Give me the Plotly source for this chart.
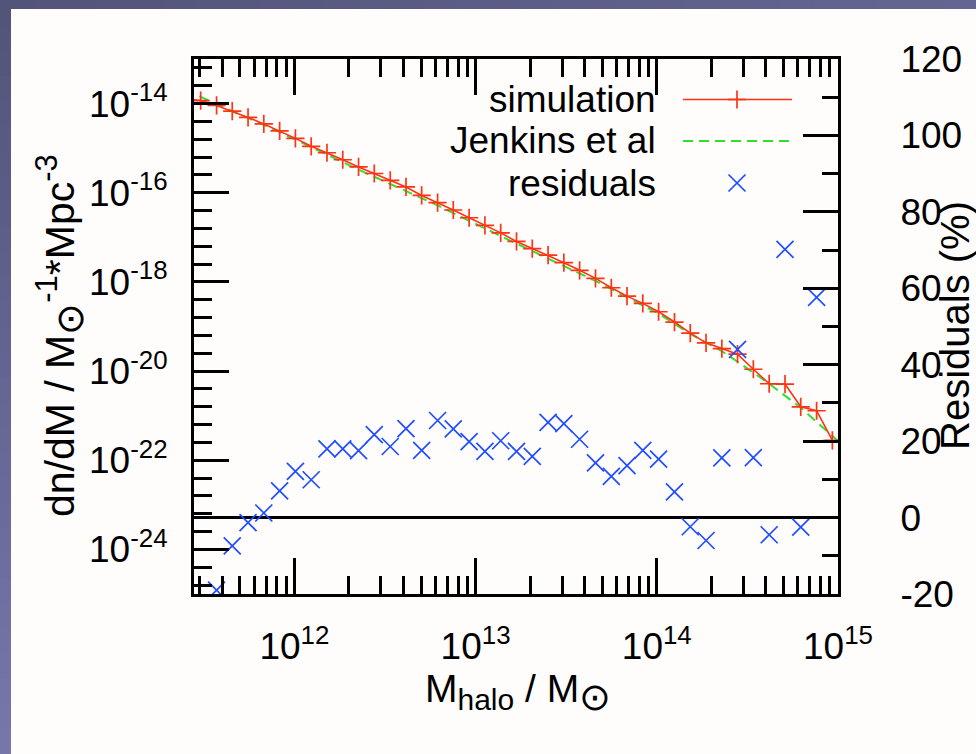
import plotly.graph_objects as go

# ---- data -------------------------------------------------------------
# halo mass bins (M_sun); the first bin lies just below the plotted range
halo_mass = [
    2.49e11, 3.04e11, 3.72e11, 4.54e11, 5.55e11, 6.78e11, 8.29e11,
    1.013e12, 1.238e12, 1.513e12, 1.849e12, 2.26e12, 2.76e12, 3.38e12,
    4.13e12, 5.04e12, 6.17e12, 7.53e12, 9.21e12, 1.126e13, 1.376e13,
    1.682e13, 2.055e13, 2.512e13, 3.07e13, 3.75e13, 4.59e13, 5.61e13,
    6.85e13, 8.37e13, 1.023e14, 1.252e14, 1.53e14, 1.87e14, 2.285e14,
    2.79e14, 3.41e14, 4.17e14, 5.10e14, 6.23e14, 7.62e14, 9.31e14,
]

# simulated mass function dn/dM (M_sun^-1 Mpc^-3)
sim_dndm = [
    1.29e-14, 1.17e-14, 9.1e-15, 6.8e-15, 4.9e-15, 3.5e-15, 2.45e-15,
    1.66e-15, 1.10e-15, 7.9e-16, 5.5e-16, 3.8e-16, 2.7e-16, 1.9e-16,
    1.35e-16, 8.7e-17, 6.0e-17, 4.1e-17, 2.75e-17, 1.86e-17, 1.26e-17,
    8.1e-18, 5.6e-18, 4.0e-18, 2.7e-18, 1.82e-18, 1.20e-18, 7.4e-19,
    4.8e-19, 3.3e-19, 2.14e-19, 1.26e-19, 7.1e-20, 4.3e-20, 3.2e-20,
    2.4e-20, 1.10e-20, 5.2e-21, 5.1e-21, 1.58e-21, 1.29e-21, 2.8e-22,
]

# residuals between simulation and fit (%); None = outside the plotted range
residual_pct = [
    None, None, -19.0, -7.4, -1.3, 1.2, 7.0, 12.1, 9.9, 18.0, 18.0, 17.5,
    21.7, 18.6, 23.3, 17.6, 25.4, 23.2, 19.9, 17.3, 20.1, 17.3, 16.0, 24.9,
    24.6, 20.5, 14.3, 10.8, 13.6, 17.6, 15.3, 6.7, -2.4, -6.0, 15.6, 44.0,
    15.7, -4.5, 70.2, -2.5, 57.6, None,
]

# Jenkins et al. fitting function
jenkins_mass = [
    2.49e11, 3.04e11, 8.29e11, 2.26e12, 6.17e12, 1.682e13, 4.59e13,
    1.023e14, 1.53e14, 2.285e14, 2.79e14, 4.17e14, 6.23e14, 9.31e14, 1.0e15,
]
jenkins_dndm = [
    2.1e-14, 1.41e-14, 2.29e-15, 3.3e-16, 5.2e-17, 7.2e-18, 1.05e-18,
    1.95e-19, 6.8e-20, 2.8e-20, 1.62e-20, 5.2e-21, 1.51e-21, 3.5e-22, 2.7e-22,
]

x_tick_vals = [1e12, 1e13, 1e14, 1e15]
x_tick_text = ["10<sup>12</sup>", "10<sup>13</sup>", "10<sup>14</sup>", "10<sup>15</sup>"]
y_tick_vals = [1e-14, 1e-16, 1e-18, 1e-20, 1e-22, 1e-24]
y_tick_text = ["10<sup>-14</sup>", "10<sup>-16</sup>", "10<sup>-18</sup>",
               "10<sup>-20</sup>", "10<sup>-22</sup>", "10<sup>-24</sup>"]
y2_tick_vals = [-20, 0, 20, 40, 60, 80, 100, 120]
y2_tick_text = ["-20", "0", "20", "40", "60", "80", "100", "120"]

legend_labels = ["simulation", "Jenkins et al", "residuals"]

# ---- styling ----------------------------------------------------------
W, H = 976, 754
L, R, T, B = 194, 838, 59, 594          # plot box in pixels
FONT = "Liberation Sans, Arial, Helvetica, sans-serif"
FS = 37
RED = "#ff3314"
GREEN = "#2fe02f"
BLUE = "#1f4dff"
INK = "black"


def px(xp):
    return (xp - L) / (R - L)


def py(yp):
    return (B - yp) / (B - T)


# minor ticks: 2..9 per decade on x, every 0.4 decade on the log y axis
x_minor = [k * 10 ** d for d in range(11, 15) for k in range(2, 10)]
y_minor = []
for i in range(30):
    e = -13.2 - 0.4 * i
    if abs(e - round(e)) > 0.05 or round(e) % 2:
        y_minor.append(10 ** e)

fig = go.Figure()

fig.add_trace(go.Scatter(
    x=jenkins_mass, y=jenkins_dndm, mode="lines",
    line=dict(color=GREEN, width=2, dash="10px,6px"),
    showlegend=False, name=legend_labels[1],
))
fig.add_trace(go.Scatter(
    x=halo_mass, y=sim_dndm, mode="lines+markers",
    line=dict(color=RED, width=1.6),
    marker=dict(symbol="cross-thin", size=13, color=RED,
                line=dict(color=RED, width=1.7)),
    showlegend=False, name=legend_labels[0],
))
fig.add_trace(go.Scatter(
    x=halo_mass, y=residual_pct, mode="markers", yaxis="y2",
    marker=dict(symbol="x-thin", size=17, color=BLUE,
                line=dict(color=BLUE, width=1.7)),
    showlegend=False, name=legend_labels[2],
))

tick_font = dict(family=FONT, size=FS, color=INK)

fig.update_layout(
    width=W, height=H, autosize=False,
    margin=dict(l=L, r=W - R, t=T, b=H - B, pad=0),
    paper_bgcolor="#62648f",
    plot_bgcolor="rgba(0,0,0,0)",
    showlegend=False,
    xaxis=dict(
        type="log", range=[11.446, 15.0], automargin=False,
        tickmode="array", tickvals=x_tick_vals, ticktext=x_tick_text,
        ticks="inside", ticklen=36, tickwidth=2.5, tickcolor=INK,
        showline=True, linewidth=3, linecolor=INK, mirror="ticks",
        showgrid=False, zeroline=False, tickfont=tick_font,
        ticklabelstandoff=18,
        minor=dict(tickmode="array", tickvals=x_minor, ticks="inside",
                   ticklen=18, tickwidth=2.5, tickcolor=INK, showgrid=False),
    ),
    yaxis=dict(
        type="log", range=[-25, -13], automargin=False,
        tickmode="array", tickvals=y_tick_vals, ticktext=y_tick_text,
        ticks="inside", ticklen=35, tickwidth=2.5, tickcolor=INK,
        showline=True, linewidth=3, linecolor=INK, mirror=False,
        showgrid=False, zeroline=False, tickfont=tick_font,
        ticklabelstandoff=16,
        minor=dict(tickmode="array", tickvals=y_minor, ticks="inside",
                   ticklen=18, tickwidth=2.5, tickcolor=INK, showgrid=False),
    ),
    yaxis2=dict(
        overlaying="y", side="right", range=[-20, 120], automargin=False,
        tickmode="array", tickvals=y2_tick_vals, ticktext=y2_tick_text,
        ticks="inside", ticklen=35, tickwidth=2.5, tickcolor=INK,
        showline=True, linewidth=3, linecolor=INK,
        showgrid=False, zeroline=True, zerolinecolor=INK, zerolinewidth=2.5,
        tickfont=tick_font, ticklabelstandoff=52,
        minor=dict(dtick=10, ticks="inside", ticklen=16, tickwidth=2.5,
                   tickcolor=INK, showgrid=False),
    ),
)

shapes = []
# slide-style gradient frame behind the white page
top_c, bot_c, right_c = (0x52, 0x54, 0x79), (0x76, 0x76, 0xab), (0x63, 0x66, 0x91)
n = 30
for i in range(n):
    f = i / (n - 1)
    c = tuple(round(a + (b - a) * f) for a, b in zip(top_c, bot_c))
    shapes.append(dict(type="rect", xref="paper", yref="paper", layer="below",
                       x0=px(0), x1=px(12), y0=py(H * i / n), y1=py(H * (i + 1) / n + 1),
                       fillcolor="rgb(%d,%d,%d)" % c, line=dict(width=0)))
    c2 = tuple(round(a + (b - a) * f) for a, b in zip(top_c, right_c))
    shapes.append(dict(type="rect", xref="paper", yref="paper", layer="below",
                       x0=px(W * i / n), x1=px(W * (i + 1) / n + 1), y0=py(0), y1=py(10),
                       fillcolor="rgb(%d,%d,%d)" % c2, line=dict(width=0)))
shapes.append(dict(type="rect", xref="paper", yref="paper", layer="below",
                   x0=px(11), x1=px(W + 5), y0=py(9), y1=py(H + 5),
                   fillcolor="#fefdfc", line=dict(width=0)))

# key samples (text on the left, sample on the right)
key_x0, key_x1, key_mid = 683, 792, 737
key_y = [99.5, 141, 183]
shapes.append(dict(type="line", xref="paper", yref="paper",
                   x0=px(key_x0), x1=px(key_x1), y0=py(key_y[0]), y1=py(key_y[0]),
                   line=dict(color=RED, width=1.6)))
shapes.append(dict(type="line", xref="paper", yref="paper",
                   x0=px(key_mid), x1=px(key_mid), y0=py(key_y[0] - 9), y1=py(key_y[0] + 9),
                   line=dict(color=RED, width=1.7)))
shapes.append(dict(type="line", xref="paper", yref="paper",
                   x0=px(key_mid - 9), x1=px(key_mid + 9), y0=py(key_y[0]), y1=py(key_y[0]),
                   line=dict(color=RED, width=1.7)))
shapes.append(dict(type="line", xref="paper", yref="paper",
                   x0=px(key_x0), x1=px(key_x1), y0=py(key_y[1]), y1=py(key_y[1]),
                   line=dict(color=GREEN, width=2, dash="10px,6px")))
for s in (-1, 1):
    shapes.append(dict(type="line", xref="paper", yref="paper",
                       x0=px(key_mid - 8.5), x1=px(key_mid + 8.5),
                       y0=py(key_y[2] - 8.5 * s), y1=py(key_y[2] + 8.5 * s),
                       line=dict(color=BLUE, width=1.7)))

annotations = []
for lab, yy in zip(legend_labels, key_y):
    annotations.append(dict(text=lab, xref="paper", yref="paper", x=px(658), y=py(yy),
                            xanchor="right", yanchor="middle", showarrow=False,
                            font=dict(family=FONT, size=FS, color=INK)))

SUN_BIG = "<span style='font-size:38px'>⊙</span>"
annotations.append(dict(
    text="dn/dM / M<sub>" + SUN_BIG + "</sub><sup><span style='font-size:31px'>-1</span></sup>"
         "*Mpc<sup><span style='font-size:31px'>-3</span></sup>",
    xref="paper", yref="paper", x=px(60), y=py(336), textangle=-90,
    xanchor="center", yanchor="middle", showarrow=False,
    font=dict(family=FONT, size=41, color=INK)))
annotations.append(dict(
    text="M<sub><span style='font-size:30px'>halo</span></sub> / M<sub>" + SUN_BIG + "</sub>",
    xref="paper", yref="paper", x=px(518), y=py(692),
    xanchor="center", yanchor="middle", showarrow=False,
    font=dict(family=FONT, size=39, color=INK)))
annotations.append(dict(text="Residuals (%)",
                        xref="paper", yref="paper", x=px(955), y=py(326), textangle=-90,
                        xanchor="center", yanchor="middle", showarrow=False,
                        font=dict(family=FONT, size=40, color=INK)))

fig.update_layout(shapes=shapes, annotations=annotations)

fig.write_html("out.html")
